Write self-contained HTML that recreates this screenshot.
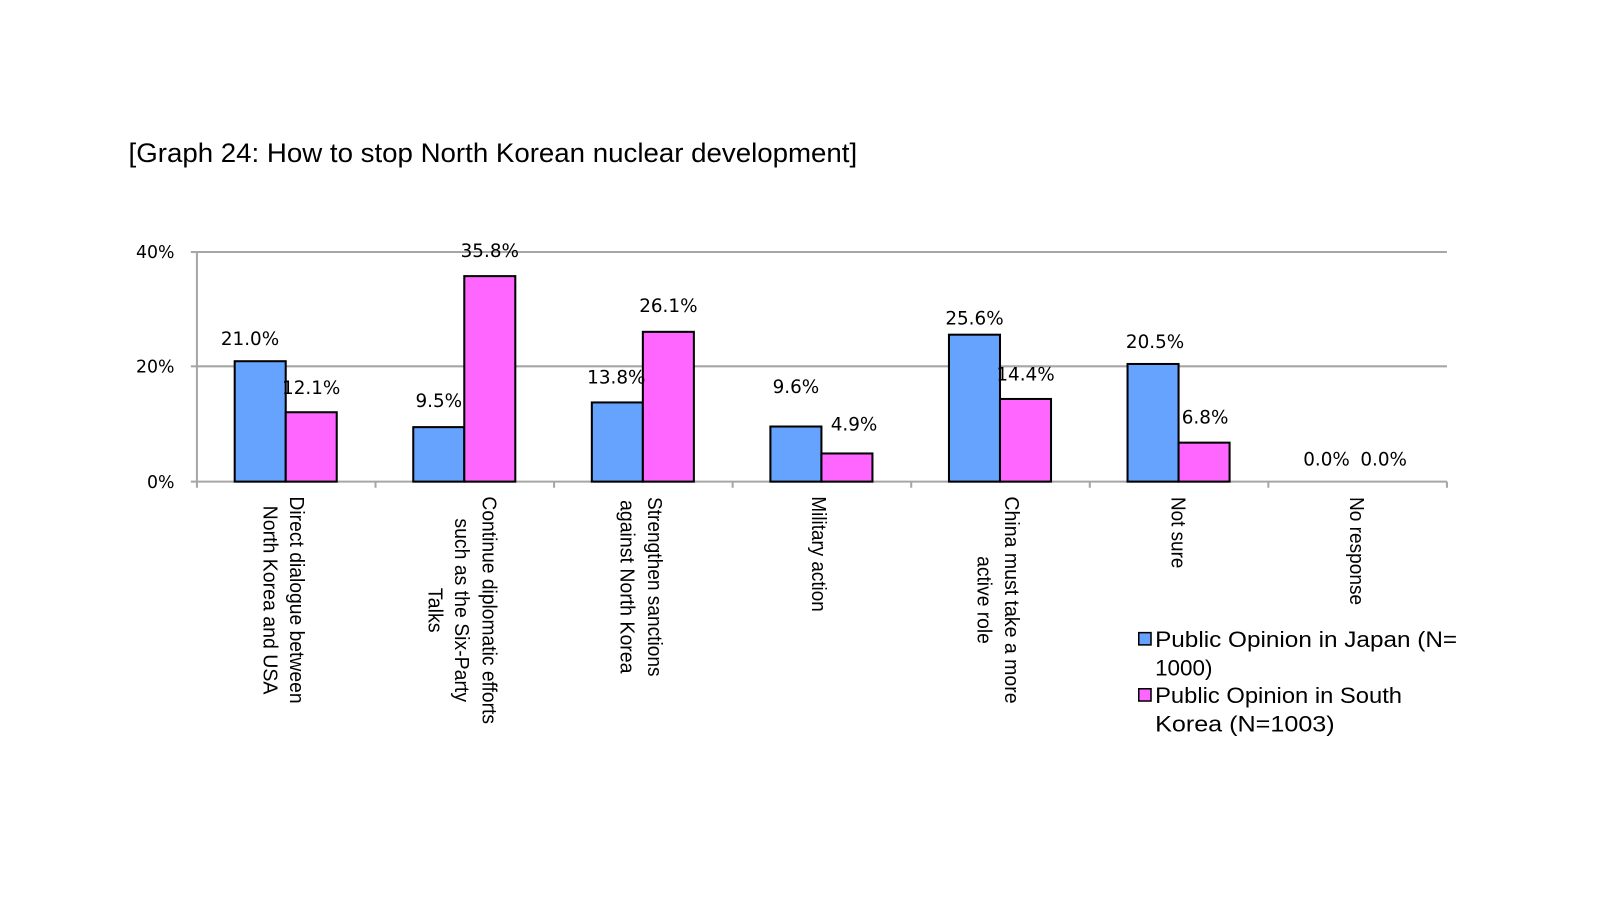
<!DOCTYPE html>
<html><head><meta charset="utf-8"><style>body{margin:0;background:#fff}svg{display:block}</style></head>
<body>
<svg width="1600" height="900" xmlns="http://www.w3.org/2000/svg" font-family="Liberation Sans, sans-serif">
<rect width="1600" height="900" fill="#fff"/>
<g transform="scale(1.0204)">
<text x="126" y="159" font-size="26" fill="#000" textLength="714" lengthAdjust="spacingAndGlyphs">[Graph 24: How to stop North Korean nuclear development]</text>
<g stroke="#a6a6a6" stroke-width="2">
<line x1="193" y1="247" x2="1418" y2="247"/>
<line x1="193" y1="359" x2="1418" y2="359"/>
<line x1="193" y1="472" x2="1418" y2="472"/>
<line x1="193" y1="247" x2="193" y2="472"/>
<line x1="187" y1="247" x2="193" y2="247"/><line x1="187" y1="359" x2="193" y2="359"/><line x1="187" y1="472" x2="193" y2="472"/>
<line x1="193" y1="472" x2="193" y2="478"/><line x1="368" y1="472" x2="368" y2="478"/><line x1="543" y1="472" x2="543" y2="478"/><line x1="718" y1="472" x2="718" y2="478"/><line x1="893" y1="472" x2="893" y2="478"/><line x1="1068" y1="472" x2="1068" y2="478"/><line x1="1243" y1="472" x2="1243" y2="478"/><line x1="1418" y1="472" x2="1418" y2="478"/>
</g>
<g font-family="DejaVu Sans, sans-serif" font-size="17" text-anchor="end" fill="#000">
<text x="171" y="253">40%</text><text x="171" y="365">20%</text><text x="171" y="478">0%</text>
</g>
<g stroke="#000" stroke-width="2">
<rect x="230" y="354" width="50" height="118" fill="#66a3ff"/>
<rect x="280" y="404" width="50" height="68" fill="#ff66ff"/>
<rect x="405" y="418.6" width="50" height="53.4" fill="#66a3ff"/>
<rect x="455" y="270.6" width="50" height="201.4" fill="#ff66ff"/>
<rect x="580" y="394.4" width="50" height="77.6" fill="#66a3ff"/>
<rect x="630" y="325.2" width="50" height="146.8" fill="#ff66ff"/>
<rect x="755" y="418" width="50" height="54" fill="#66a3ff"/>
<rect x="805" y="444.4" width="50" height="27.6" fill="#ff66ff"/>
<rect x="930" y="328" width="50" height="144" fill="#66a3ff"/>
<rect x="980" y="391" width="50" height="81" fill="#ff66ff"/>
<rect x="1105" y="356.7" width="50" height="115.3" fill="#66a3ff"/>
<rect x="1155" y="433.8" width="50" height="38.2" fill="#ff66ff"/>
</g>
<g font-family="DejaVu Sans, sans-serif" font-size="18" text-anchor="middle" fill="#000">
<text x="245" y="338">21.0%</text><text x="305" y="386">12.1%</text>
<text x="430" y="399">9.5%</text><text x="480" y="252">35.8%</text>
<text x="604" y="376">13.8%</text><text x="655" y="306">26.1%</text>
<text x="780" y="385">9.6%</text><text x="837" y="422">4.9%</text>
<text x="955" y="318">25.6%</text><text x="1005" y="373">14.4%</text>
<text x="1132" y="341">20.5%</text><text x="1181" y="415">6.8%</text>
<text x="1300" y="456">0.0%</text><text x="1356" y="456">0.0%</text>
</g>
<g font-size="20" fill="#000" text-anchor="middle">
<text transform="translate(284,588) rotate(90)" textLength="203" lengthAdjust="spacingAndGlyphs">Direct dialogue between</text>
<text transform="translate(258,588) rotate(90)" textLength="185" lengthAdjust="spacingAndGlyphs">North Korea and USA</text>
<text transform="translate(473,598) rotate(90)" textLength="223" lengthAdjust="spacingAndGlyphs">Continue diplomatic efforts</text>
<text transform="translate(446,598) rotate(90)" textLength="180" lengthAdjust="spacingAndGlyphs">such as the Six-Party</text>
<text transform="translate(420,598) rotate(90)" textLength="44" lengthAdjust="spacingAndGlyphs">Talks</text>
<text transform="translate(635,575) rotate(90)" textLength="176" lengthAdjust="spacingAndGlyphs">Strengthen sanctions</text>
<text transform="translate(608,575) rotate(90)" textLength="170" lengthAdjust="spacingAndGlyphs">against North Korea</text>
<text transform="translate(796,543) rotate(90)" textLength="113" lengthAdjust="spacingAndGlyphs">Military action</text>
<text transform="translate(985,588) rotate(90)" textLength="203" lengthAdjust="spacingAndGlyphs">China must take a more</text>
<text transform="translate(958,588) rotate(90)" textLength="86" lengthAdjust="spacingAndGlyphs">active role</text>
<text transform="translate(1148,522) rotate(90)" textLength="70" lengthAdjust="spacingAndGlyphs">Not sure</text>
<text transform="translate(1323,540) rotate(90)" textLength="106" lengthAdjust="spacingAndGlyphs">No response</text>
</g>
<rect x="1116" y="620" width="12" height="12" fill="#66a3ff" stroke="#000" stroke-width="1.5"/>
<rect x="1116" y="675" width="12" height="12" fill="#ff66ff" stroke="#000" stroke-width="1.5"/>
<g font-size="22" fill="#000">
<text x="1132" y="634" textLength="296" lengthAdjust="spacingAndGlyphs">Public Opinion in Japan (N=</text>
<text x="1132" y="662">1000)</text>
<text x="1132" y="689" textLength="242" lengthAdjust="spacingAndGlyphs">Public Opinion in South</text>
<text x="1132" y="717" textLength="176" lengthAdjust="spacingAndGlyphs">Korea (N=1003)</text>
</g>
</g>
</svg>
</body></html>
